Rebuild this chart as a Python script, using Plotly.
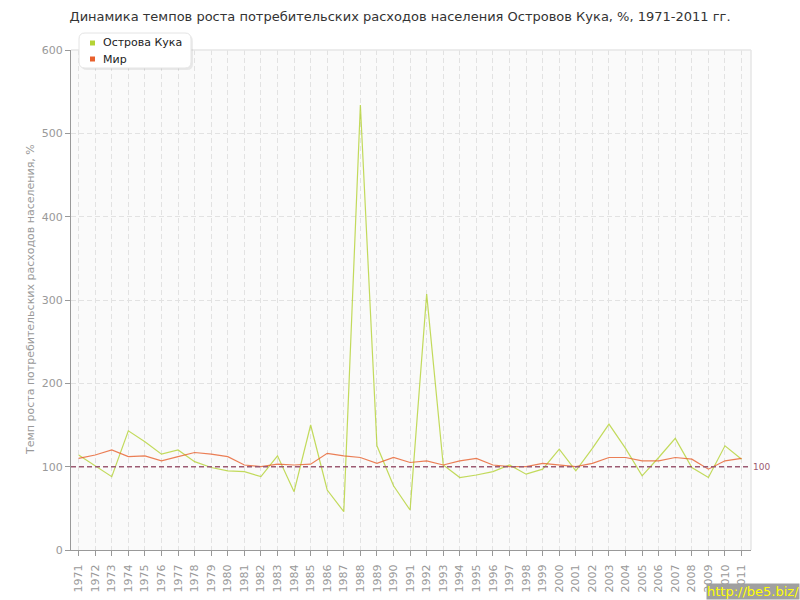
import plotly.graph_objects as go

years = list(range(1971, 2012))

cook = [114, 101, 88, 143, 130, 115, 120, 106, 99, 95,
        94, 88, 113, 70, 150, 72, 46, 534, 125, 77,
        48, 307, 102, 87, 90, 94, 102, 91, 97, 121,
        95, 122, 151, 122, 89, 111, 134, 99, 87, 125, 109]

world = [110, 114, 120, 112, 113, 107, 112, 117, 115, 112,
         102, 100, 103, 102, 103, 116, 113, 111, 104, 111,
         105, 107, 102, 107, 110, 102, 100, 100, 104, 102,
         100, 104, 111, 111, 107, 107, 111, 109, 97, 107, 110]

names = ["Острова Кука", "Мир"]
ref_value = 100

green = "#b5d334"
orange = "#e8602d"
font = "DejaVu Sans"

# область построения в пикселях
L, R, T, B = 71, 751, 50, 550


def px(x):
    return (x - L) / (R - L)


def py(y):
    return (B - y) / (B - T)


fig = go.Figure()

fig.add_trace(go.Scatter(x=years, y=cook, mode="lines", showlegend=False, name=names[0],
                         line=dict(color=green, width=1.2), opacity=0.8))
fig.add_trace(go.Scatter(x=years, y=world, mode="lines", showlegend=False, name=names[1],
                         line=dict(color=orange, width=1.2), opacity=0.8))

# линия 100%
fig.add_shape(type="line", xref="paper", x0=0, x1=1, y0=ref_value, y1=ref_value,
              line=dict(color="#9c5a72", width=1.5, dash="5px,3px"))
fig.add_annotation(xref="paper", x=1, y=ref_value, text=str(ref_value), showarrow=False,
                   xanchor="left", xshift=0, font=dict(family=font, size=9, color="#9c5a72"))

# рамка сверху и справа
fig.add_shape(type="line", xref="paper", yref="paper", x0=0, x1=1, y0=1, y1=1,
              line=dict(color="#e6e6e6", width=1.5))
fig.add_shape(type="line", xref="paper", yref="paper", x0=1, x1=1, y0=0, y1=1,
              line=dict(color="#e6e6e6", width=1.5))


# легенда вручную: скруглённая рамка с тенью
def rounded(x0, y0, x1, y1, r):
    return (f"M {px(x0 + r)},{py(y0)} L {px(x1 - r)},{py(y0)} "
            f"Q {px(x1)},{py(y0)} {px(x1)},{py(y0 + r)} L {px(x1)},{py(y1 - r)} "
            f"Q {px(x1)},{py(y1)} {px(x1 - r)},{py(y1)} L {px(x0 + r)},{py(y1)} "
            f"Q {px(x0)},{py(y1)} {px(x0)},{py(y1 - r)} L {px(x0)},{py(y0 + r)} "
            f"Q {px(x0)},{py(y0)} {px(x0 + r)},{py(y0)} Z")


fig.add_shape(type="path", xref="paper", yref="paper", path=rounded(81, 35, 193, 70, 6),
              fillcolor="rgba(0,0,0,0.07)", line=dict(width=0))
fig.add_shape(type="path", xref="paper", yref="paper", path=rounded(79, 33, 191, 68, 6),
              fillcolor="white", line=dict(color="#e4e4e4", width=1))

for i, (name, col) in enumerate(zip(names, [green, orange])):
    yc = 43 + i * 16
    fig.add_shape(type="rect", xref="paper", yref="paper",
                  x0=px(90), x1=px(95), y0=py(yc + 2.5), y1=py(yc - 2.5),
                  fillcolor=col, line=dict(width=0))
    fig.add_annotation(xref="paper", yref="paper", x=px(101), y=py(yc), text=name,
                       showarrow=False, xanchor="left", yanchor="middle",
                       font=dict(family=font, size=11, color="#222222"))

# подпись оси Y
fig.add_annotation(xref="paper", yref="paper", x=px(30), y=py(300), textangle=-90,
                   text="Темп роста потребительских расходов населения, %",
                   showarrow=False, xanchor="center", yanchor="middle",
                   font=dict(family=font, size=11, color="#999999"))

# водяной знак
fig.add_annotation(xref="paper", yref="paper", x=px(800), y=py(600), text="http://be5.biz/",
                   showarrow=False, xanchor="right", yanchor="bottom", bgcolor="#a0a0a0",
                   borderpad=0, font=dict(family=font, size=13, color="#ffff00"))

fig.update_layout(
    width=800, height=600,
    title=dict(text="Динамика темпов роста потребительских расходов населения Островов Кука, %, 1971-2011 гг.",
               x=0.5, xanchor="center", y=0.972, yanchor="middle",
               font=dict(family=font, size=13, color="#333333")),
    font=dict(family=font, size=11, color="#999999"),
    paper_bgcolor="white",
    plot_bgcolor="#fafafa",
    showlegend=False,
    margin=dict(l=L, r=800 - R, t=T, b=600 - B),
    xaxis=dict(range=[1970.54, 2011.57], tickmode="linear", tick0=1971, dtick=1,
               tickangle=-90, tickformat="d", ticks="outside", ticklen=5,
               ticklabelstandoff=4,
               tickcolor="#999999", showline=True, linecolor="#999999", linewidth=1,
               showgrid=True, gridcolor="#e2e2e2", griddash="5px,3px", zeroline=False,
               automargin=False, tickfont=dict(size=11, color="#999999")),
    yaxis=dict(range=[0, 600], dtick=100, ticks="outside", ticklen=5,
               tickcolor="#999999", showline=True, linecolor="#999999", linewidth=1,
               showgrid=True, gridcolor="#e2e2e2", griddash="5px,3px", zeroline=False,
               automargin=False, tickfont=dict(size=11, color="#999999")),
)

fig.write_html("out.html", config={"displayModeBar": False},
               post_script="document.body.style.margin = '0px';")
